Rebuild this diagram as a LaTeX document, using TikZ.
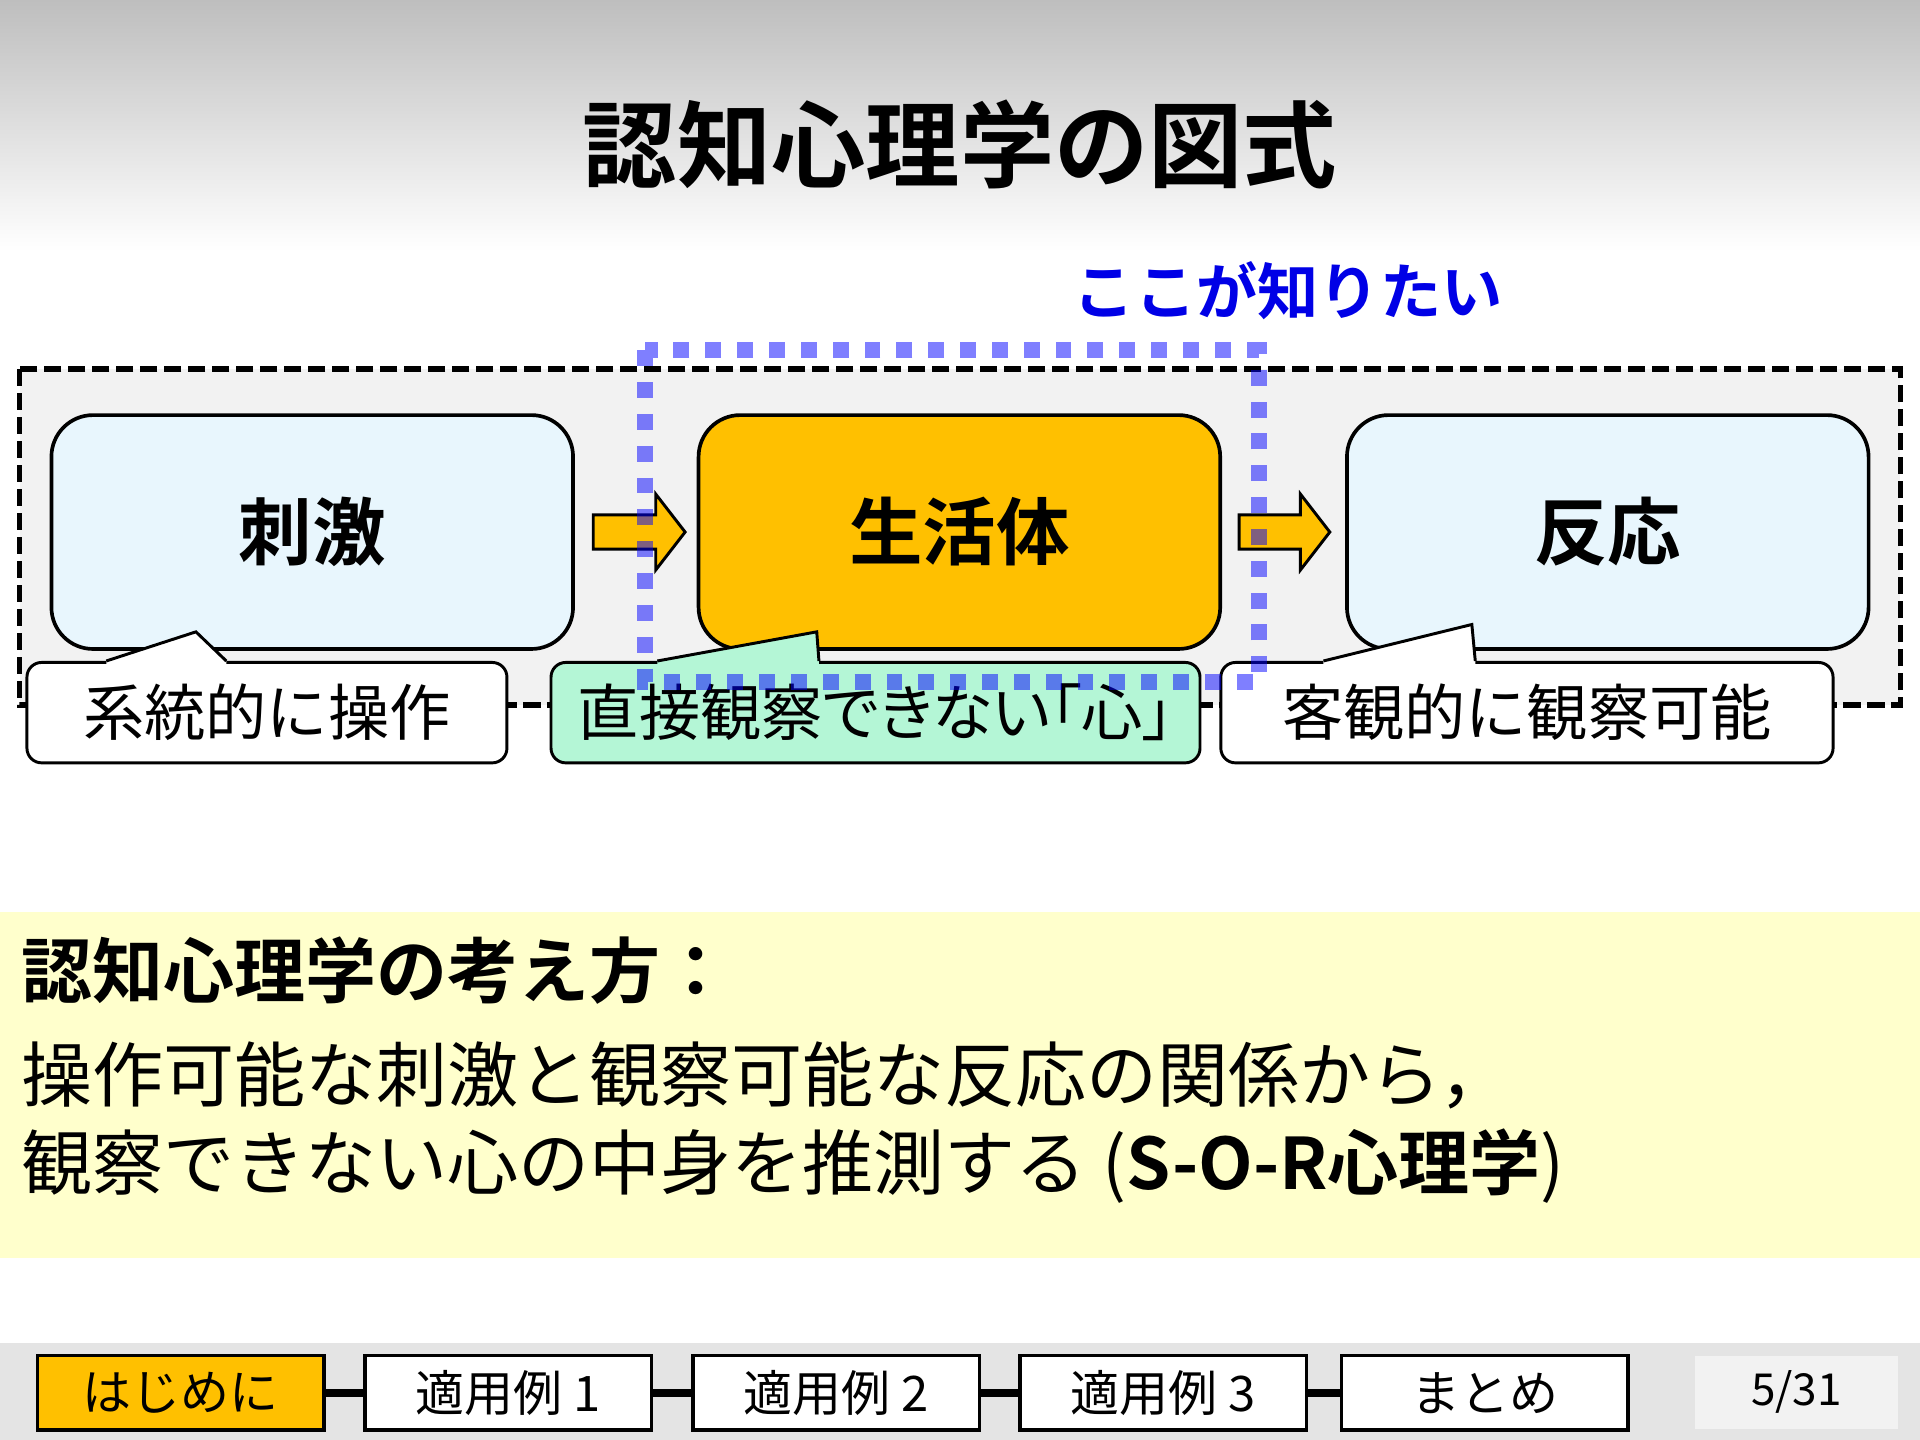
\documentclass[tikz,border=0pt]{standalone}
\usepackage{fontspec}
\setmainfont{Noto Sans CJK JP}[BoldFont={* Bold}]
\newfontfamily\jpp{Noto Sans CJK JP}[BoldFont={* Bold},RawFeature=+palt]
\usetikzlibrary{calc}
\definecolor{lightbox}{RGB}{232,246,253}
\definecolor{orangebox}{RGB}{255,192,0}
\definecolor{mint}{RGB}{180,246,214}
\definecolor{framefill}{RGB}{242,242,242}
\definecolor{band}{RGB}{255,255,204}
\definecolor{navgray}{RGB}{228,228,228}
\definecolor{dotblue}{RGB}{0,0,255}
\definecolor{titleblue}{RGB}{0,0,230}
\tikzset{
  stagebox/.style={draw=black, line width=1.5pt, rounded corners=17pt, minimum width=213pt, minimum height=95.5pt, inner sep=0pt, font=\fontsize{30}{34}\selectfont\bfseries},
  callout/.style={draw=black, line width=1.2pt, rounded corners=6pt, minimum height=41pt, inner sep=0pt, font=\fontsize{25}{28}\selectfont},
  blockarrow/.style={draw=black, line width=1.2pt, fill=orangebox, line join=miter},
  navbtn/.style={draw=black, line width=1.5pt, minimum width=117pt, minimum height=30.5pt, inner sep=0pt, font=\fontsize{20}{22}\selectfont},
  navlink/.style={line width=3pt, black},
  bandtext/.style={anchor=west, inner sep=0pt, font=\fontsize{29}{32}\selectfont}
}
\begin{document}
\begin{tikzpicture}[x=0.5pt, y=-0.5pt]
\useasboundingbox (0,0) rectangle (1568,1176);
% background
\fill[white] (0,0) rectangle (1568,1176);
\shade[top color={rgb,255:red,190;green,190;blue,190}, bottom color=white] (0,0) rectangle (1568,205);
% title
\node[font=\fontsize{38.5}{42}\selectfont\bfseries] (title) at (784,118) {認知心理学の図式};
\node[font=\fontsize{25}{28}\selectfont\bfseries, text=titleblue] (want) at (1052,237) {ここが知りたい};
% outer dashed frame
\draw[fill=framefill, draw=black, line width=2.3pt, dash pattern=on 7pt off 2.8pt] (16,301.5) rectangle (1552,576);
% stage boxes
\node[stagebox, fill=lightbox] (stim) at (255,434.5) {刺激};
\node[stagebox, fill=orangebox] (org) at (783.5,434.5) {生活体};
\node[stagebox, fill=lightbox] (resp) at (1313,434.5) {反応};
% block arrows
\draw[blockarrow] ($(stim.east)+(15,-14)$) -- ++(51,0) -- ++(0,-17) -- ++(24,31) -- ++(-24,31) -- ++(0,-17) -- ++(-51,0) -- cycle;
\draw[blockarrow] ($(org.east)+(14,-14)$) -- ++(50,0) -- ++(0,-17) -- ++(24,31) -- ++(-24,31) -- ++(0,-17) -- ++(-50,0) -- cycle;
% callouts
\node[callout, fill=white, minimum width=196pt] (c1) at (218,582) {系統的に操作};
\node[callout, fill=mint, minimum width=265pt] (c2) at (715,582) {\jpp 直接観察できない「心」};
\node[callout, fill=white, minimum width=250pt] (c3) at (1247,582) {客観的に観察可能};
% pointers
\coordinate (t1) at (160,516);
\coordinate (t2) at (667,516);
\coordinate (t3) at (1202,510);
\fill[white] ($(c1.north west)+(66,0)$) -- (t1) -- ($(c1.north west)+(164,0)$) -- ++(0,4) -- ($(c1.north west)+(66,4)$) -- cycle;
\draw[line width=1.2pt, line join=miter] ($(c1.north west)+(66,0)$) -- (t1) -- ($(c1.north west)+(164,0)$);
\fill[mint] ($(c2.north west)+(88,0)$) -- (t2) -- ($(c2.north west)+(220,0)$) -- ++(0,4) -- ($(c2.north west)+(88,4)$) -- cycle;
\draw[line width=1.2pt, line join=miter] ($(c2.north west)+(88,0)$) -- (t2) -- ($(c2.north west)+(220,0)$);
\fill[white] ($(c3.north west)+(85,0)$) -- (t3) -- ($(c3.north west)+(209,0)$) -- ++(0,4) -- ($(c3.north west)+(85,4)$) -- cycle;
\draw[line width=1.2pt, line join=miter] ($(c3.north west)+(85,0)$) -- (t3) -- ($(c3.north west)+(209,0)$);
% blue dotted focus frame
\draw[dotblue, opacity=0.5, line width=6.5pt, dash pattern=on 6.5pt off 6.5pt] (527,286) rectangle (1028,557);
% yellow band
\fill[band] (0,745) rectangle (1568,1027);
\node[bandtext, font=\fontsize{29}{32}\selectfont\bfseries] (b1) at (17,793) {認知心理学の考え方：};
\node[bandtext] (b2) at (17,878) {操作可能な刺激と観察可能な反応の関係から，};
\node[bandtext] (b3) at (17,952) {観察できない心の中身を推測する (\textbf{S-O-R心理学})};
% nav bar
\fill[navgray] (0,1097) rectangle (1568,1176);
\node[navbtn, fill=orangebox] (n1) at (147.5,1137.5) {はじめに};
\node[navbtn, fill=white] (n2) at (415,1137.5) {適用例 1};
\node[navbtn, fill=white] (n3) at (683,1137.5) {適用例 2};
\node[navbtn, fill=white] (n4) at (950,1137.5) {適用例 3};
\node[navbtn, fill=white] (n5) at (1212.5,1137.5) {まとめ};
\draw[navlink] (n1.east) -- (n2.west);
\draw[navlink] (n2.east) -- (n3.west);
\draw[navlink] (n3.east) -- (n4.west);
\draw[navlink] (n4.east) -- (n5.west);
\node[fill=framefill, minimum width=83pt, minimum height=30pt, inner sep=0pt, font=\fontsize{18}{20}\selectfont] (page) at (1467,1137) {5/31};
\end{tikzpicture}
\end{document}
